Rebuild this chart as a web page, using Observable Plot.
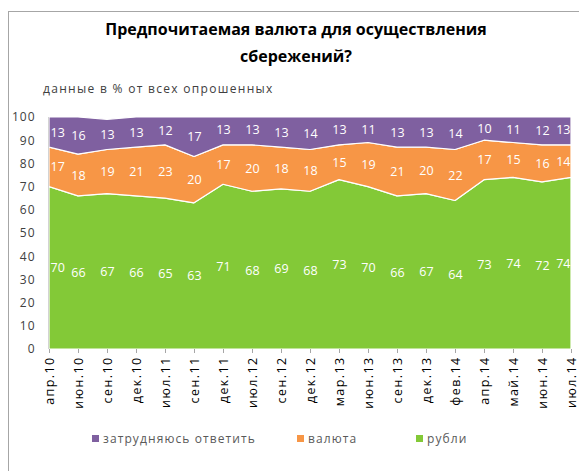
<!DOCTYPE html>
<html>
<head>
<meta charset="utf-8">
<script src="https://cdn.jsdelivr.net/npm/d3@7"></script>
<script src="https://cdn.jsdelivr.net/npm/@observablehq/plot@0.6"></script>
<style>
  body { margin: 0; background: #fff; }
  #wrap { position: relative; width: 579px; height: 471px; overflow: hidden; font-family: "Open Sans", "DejaVu Sans", sans-serif; }
  #frame { position: absolute; left: 8px; top: 11px; width: 600px; height: 500px; border: 1px solid #a6a6a6; box-sizing: border-box; }
  #title { position: absolute; left: 96px; width: 400px; top: 16px; text-align: center; font-weight: bold; font-size: 16px; line-height: 27px; color: #000; }
  #sub { position: absolute; left: 43px; top: 80px; font-size: 12px; letter-spacing: 1.3px; color: #404040; }
  .leg { position: absolute; top: 430px; font-size: 12px; letter-spacing: 1.1px; color: #595959; display: flex; align-items: center; }
  .leg span.sw { display: inline-block; width: 7px; height: 7px; margin-right: 4px; }
  #chart { position: absolute; left: 0; top: 0; }
  g[aria-label="x-axis tick label"] text { letter-spacing: 1.4px; }
  g[aria-label="y-axis tick label"] text { letter-spacing: 1px; }
</style>
</head>
<body>
<div id="wrap">
  <div id="frame"></div>
  <div id="chart"></div>
  <div id="title">Предпочитаемая валюта для осуществления<br>сбережений?</div>
  <div id="sub">данные в % от всех опрошенных</div>
  <div id="legend"></div>
</div>
<script>
const categories = ["апр.10","июн.10","сен.10","дек.10","июл.11","сен.11","дек.11","июл.12","сен.12","дек.12","мар.13","июн.13","сен.13","дек.13","фев.14","апр.14","май.14","июн.14","июл.14"];
const rubles    = [70,66,67,66,65,63,71,68,69,68,73,70,66,67,64,73,74,72,74];
const currency  = [17,18,19,21,23,20,17,20,18,18,15,19,21,20,22,17,15,16,14];
const difficult = [13,16,13,13,12,17,13,13,13,14,13,11,13,13,14,10,11,12,13];
const seriesNames = ["рубли","валюта","затрудняюсь ответить"];
const seriesColors = ["#83c937","#f79646","#7f60a0"];
const legendOrder = ["затрудняюсь ответить","валюта","рубли"];
const yTicks = [0,10,20,30,40,50,60,70,80,90,100];

const seriesValues = [rubles, currency, difficult];
const data = [];
seriesNames.forEach((s, si) => {
  categories.forEach((c, i) => data.push({cat: c, idx: i, series: s, value: seriesValues[si][i]}));
});
const last = categories.length - 1;

const stackOpts = {x: "cat", y: "value", z: "series", order: seriesNames};
const labelStyle = {text: d => String(d.value), fill: "white", fontSize: 12.5, letterSpacing: 1};

const plot = Plot.plot({
  width: 579,
  height: 471,
  marginLeft: 49,
  marginRight: 8,
  marginTop: 117,
  marginBottom: 122,
  style: {fontFamily: "'Open Sans', sans-serif", background: "transparent"},
  x: {type: "point", domain: categories, padding: 0},
  y: {domain: [0, 100], clamp: true},
  color: {domain: seriesNames, range: seriesColors},
  marks: [
    Plot.ruleX([categories[0]], {stroke: "#a6a6a6", y1: 0, y2: 100, dx: -0.5}),
    Plot.areaY(data, Plot.stackY({...stackOpts, fill: "series", stroke: "white", strokeWidth: 1.2, clip: true})),
    Plot.text(data, Plot.stackY({...stackOpts, ...labelStyle, filter: d => d.idx > 0 && d.idx < last})),
    Plot.text(data, Plot.stackY({...stackOpts, ...labelStyle, filter: d => d.idx === 0, textAnchor: "start", dx: 1})),
    Plot.text(data, Plot.stackY({...stackOpts, ...labelStyle, filter: d => d.idx === last, textAnchor: "end", dx: -1})),
    Plot.axisY({ticks: yTicks, tickSize: 0, tickPadding: 14, fontSize: 12, color: "#404040", label: null}),
    Plot.axisX({tickRotate: -90, tickSize: 4, tickPadding: 3, fontSize: 12.5, color: "#000", stroke: "#a6a6a6", label: null})
  ]
});
document.getElementById("chart").appendChild(plot);

const legendPos = [92, 297, 416];
const leg = document.getElementById("legend");
legendOrder.forEach((name, i) => {
  const d = document.createElement("div");
  d.className = "leg";
  d.style.left = legendPos[i] + "px";
  const sw = document.createElement("span");
  sw.className = "sw";
  sw.style.background = seriesColors[seriesNames.indexOf(name)];
  d.appendChild(sw);
  d.appendChild(document.createTextNode(name));
  leg.appendChild(d);
});
</script>
</body>
</html>
